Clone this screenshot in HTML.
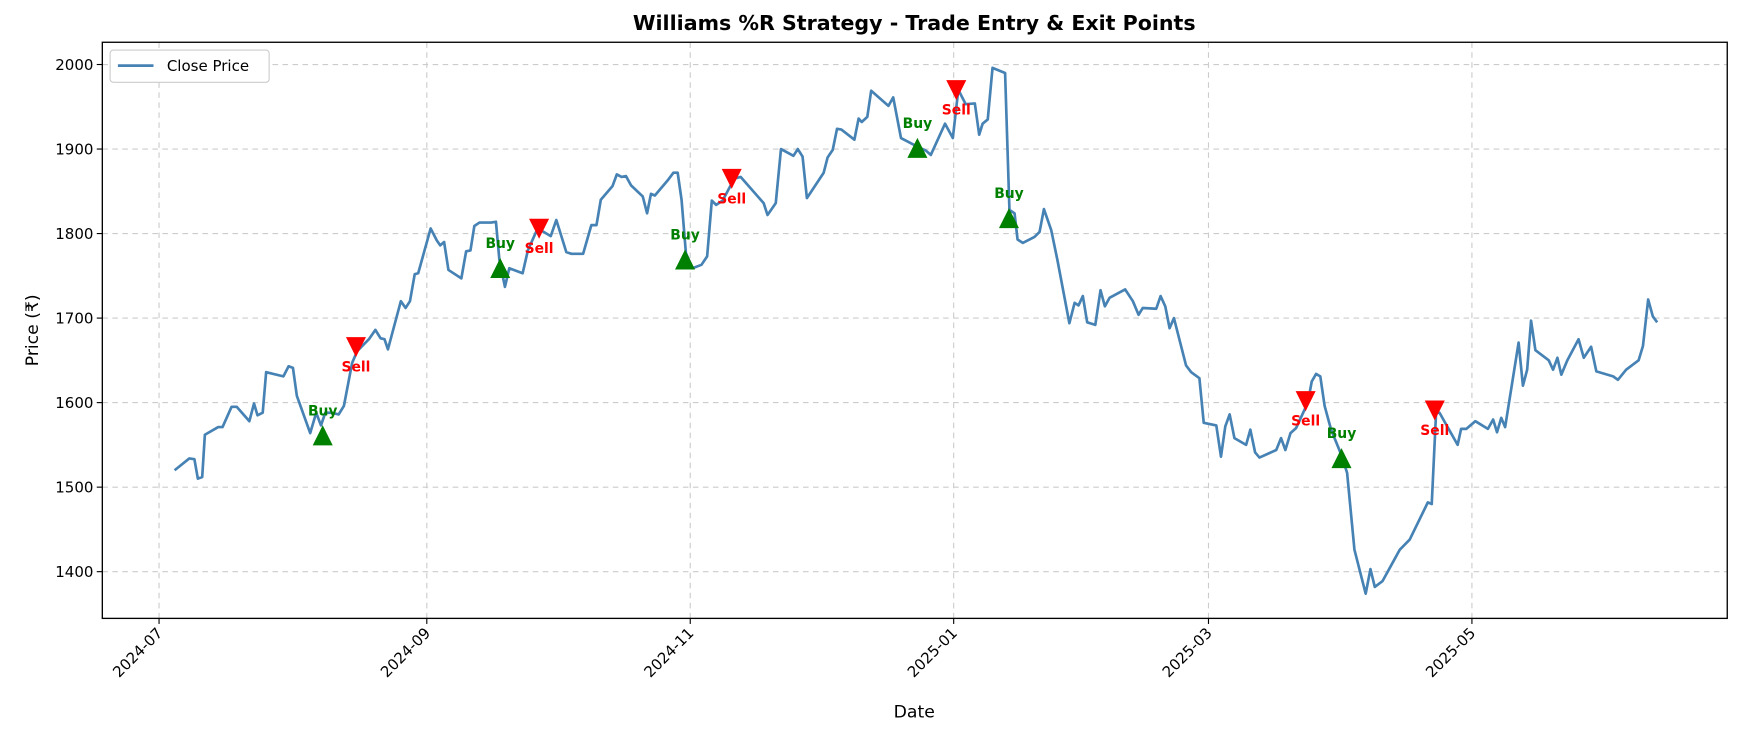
<!DOCTYPE html>
<html><head><meta charset="utf-8"><style>
body{margin:0;background:#fff;font-family:"Liberation Sans","DejaVu Sans",sans-serif;}
svg text{font-family:"DejaVu Sans","Liberation Sans",sans-serif;}
</style></head><body>
<svg id="chart" width="1744" height="730" xmlns="http://www.w3.org/2000/svg">
<rect width="1744" height="730" fill="#fff"/>
<g transform="scale(1.1122)">
<text x="822" y="27" text-anchor="middle" font-size="18.5" font-weight="bold">Williams %R Strategy - Trade Entry &amp; Exit Points</text>
<g id="grid"></g><g id="axes"></g><g id="series"></g><g id="markers"></g>
<text x="822" y="645" text-anchor="middle" font-size="15.5">Date</text>
<text transform="translate(34,297) rotate(-90)" text-anchor="middle" font-size="15.5">Price (₹)</text>
<g>
<rect x="99" y="45" width="143" height="29" rx="3" fill="#fff" stroke="#ccc"/>
<line x1="106" y1="59" x2="138" y2="59" stroke="#4682b4" stroke-width="2.5"/>
<text x="150" y="64" font-size="13.5">Close Price</text>
</g>
</g>
</svg>
<script>
const days=[3.6,7,8.2,9,10,10.6,13.7,14.7,16.8,18,20.9,22,22.8,24,24.8,28.8,30,31,31.9,35,36.4,37.5,38.5,40,41.6,42.8,44.7,45.9,48.6,50.1,51.3,52.2,53,56,57.1,58.1,59.2,60,62.9,64.3,65.1,66,67,70,71.1,72.1,73,74.2,76.9,78,78.8,80.1,81.1,84.2,85.4,87.3,88.4,90.7,92,94.3,95.5,98.2,100.1,101.3,102.3,105,106,107.1,108.1,109.3,112,113,113.9,114.8,117.8,119.1,120.1,121,122,123.5,125.6,126.9,128,129,130.5,133.2,134.7,140,140.9,142.8,144,146.9,147.9,149,150,153.9,154.8,156,157,158,161,162,162.7,164,164.9,168.9,170,171.8,175.5,177.6,178.7,182,183.8,184.8,185.1,186.8,188.9,189.9,190.7,191.9,193,195.9,196.9,198.1,198.8,200,202.7,203.9,204.9,206.6,208,210.8,212,212.9,213.9,214.9,216.8,218,219,220.1,223.7,225.5,226.8,227.8,230.9,231.9,233,234,235,237.8,239,240.9,241.9,244.8,245.9,246.9,247.9,249,251.7,252.7,253.8,254.8,258.7,259.8,260.8,262,263.3,266,266.9,267.9,268.9,269.9,271.4,273.7,275.1,276.8,279.4,280.5,281.5,283.3,287.3,289.6,293.8,294.7,295.7,296.5,300.7,301.5,302.7,304.8,307.7,308.9,309.8,310.8,311.7,314.8,315.8,316.8,317.7,318.7,321.8,322.8,323.8,324.7,326.1,328.7,329.9,331.6,332.8,336.7,337.8,339.7,342.6,343.6,344.8,345.9,346.9];
const prices=[1520,1534,1533,1510,1512,1562,1571,1571,1595,1595,1578,1599,1585,1588,1636,1631,1643,1641,1608,1564,1588,1573,1588,1588,1586,1596,1647,1661,1675,1686,1676,1675,1663,1720,1712,1720,1752,1753,1806,1792,1786,1790,1757,1747,1779,1780,1809,1813,1813,1814,1769,1737,1759,1753,1780,1802,1804,1797,1816,1778,1776,1776,1810,1810,1840,1856,1870,1867,1868,1857,1844,1824,1847,1845,1863,1872,1872,1840,1777,1759,1763,1773,1839,1834,1839,1865,1867,1836,1822,1836,1900,1892,1900,1891,1842,1872,1890,1899,1924,1923,1911,1936,1932,1938,1969,1951,1961,1913,1903,1898,1893,1930,1913,1958,1970,1953,1954,1917,1930,1935,1996,1990,1828,1824,1793,1789,1796,1802,1829,1804,1769,1694,1718,1715,1726,1695,1692,1733,1714,1724,1734,1720,1704,1712,1711,1726,1714,1688,1700,1644,1636,1629,1576,1573,1536,1572,1586,1558,1550,1568,1541,1535,1544,1558,1544,1564,1570,1600,1625,1634,1631,1596,1568,1539,1517,1426,1374,1403,1382,1389,1426,1438,1482,1480,1588,1588,1550,1569,1569,1578,1569,1580,1565,1582,1571,1671,1620,1639,1697,1662,1650,1639,1653,1633,1650,1675,1653,1666,1637,1631,1627,1639,1650,1667,1722,1702,1695];
const buyDays=[37.9,79,121.8,175.6,196.8,273.8];
const buyPrices=[1560,1758,1768,1900,1817,1533];
const sellDays=[45.6,88,132.6,184.6,265.5,295.4];
const sellPrices=[1667,1807,1866,1971,1603,1592];
const yTicks=[1400,1500,1600,1700,1800,1900,2000];
const xTickDays=[0,62,123,184,243,304];
const xTickLabels=["2024-07","2024-09","2024-11","2025-01","2025-03","2025-05"];

const NS="http://www.w3.org/2000/svg";
const L=92,R=1553,T=38,B=556;
function xs(d){return 143+d*3.883;}
function ys(p){return 514-(p-1400)*0.76;}
function mk(tag,attrs,parent){const e=document.createElementNS(NS,tag);for(const k in attrs)e.setAttribute(k,attrs[k]);document.getElementById(parent).appendChild(e);return e;}

yTicks.forEach(v=>{
  const g=mk('line',{x1:L,x2:R,y1:ys(v),y2:ys(v),stroke:'#ccc','stroke-dasharray':'5,4','stroke-width':1},'grid');
  
  
  const t=mk('line',{x1:L-5,x2:L,y1:ys(v),y2:ys(v),stroke:'#000'},'axes');
  
  
  const lb=mk('text',{x:L-8,y:ys(v)+5,'text-anchor':'end','font-size':13.5},'axes');
  lb.textContent=v;
  
  
});
xTickDays.forEach((d,i)=>{
  const x=xs(d);
  const g=mk('line',{x1:x,x2:x,y1:T,y2:B,stroke:'#ccc','stroke-dasharray':'5,4','stroke-width':1},'grid');
  
  
  const t=mk('line',{x1:x,x2:x,y1:B,y2:B+5,stroke:'#000'},'axes');
  
  
  const lb=mk('text',{x:x+4,y:B+14,'text-anchor':'end','font-size':13.5,transform:`rotate(-45 ${x+4} ${B+14})`},'axes');
  lb.textContent=xTickLabels[i];
  
  
});
const frame=mk('rect',{x:L,y:T,width:R-L,height:B-T,fill:'none',stroke:'#000','stroke-width':1.2},'axes');



const pts=days.map((d,i)=>xs(d).toFixed(1)+','+ys(prices[i]).toFixed(1)).join(' ');
const line=mk('polyline',{points:pts,fill:'none',stroke:'#4682b4','stroke-width':2.4,'stroke-linejoin':'round'},'series');



buyDays.forEach((d,i)=>{
  const x=xs(d),y=ys(buyPrices[i]);
  const m=mk('polygon',{points:`${x},${y-10} ${x-9},${y+8} ${x+9},${y+8}`,fill:'green'},'markers');
  
  
  const t=mk('text',{x:x,y:y-19,'text-anchor':'middle','font-size':12.5,'font-weight':'bold',fill:'green'},'markers');
  t.textContent='Buy';
  
  
});
sellDays.forEach((d,i)=>{
  const x=xs(d),y=ys(sellPrices[i]);
  const m=mk('polygon',{points:`${x-9},${y-8} ${x+9},${y-8} ${x},${y+10}`,fill:'red'},'markers');
  
  
  const t=mk('text',{x:x,y:y+23,'text-anchor':'middle','font-size':12.5,'font-weight':'bold',fill:'red'},'markers');
  t.textContent='Sell';
  
  
});
</script>
</body></html>
